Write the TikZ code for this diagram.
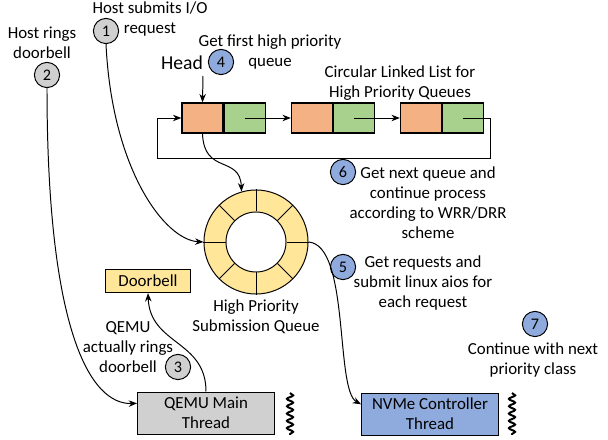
\documentclass[tikz,border=0pt]{standalone}
\usepackage{fontspec}
\setmainfont{Carlito}
\usepackage{xcolor}
\usetikzlibrary{arrows.meta, decorations.pathmorphing}

\definecolor{qorange}{HTML}{F4B183}
\definecolor{qgreen}{HTML}{A9D18E}
\definecolor{qyellow}{HTML}{FFE699}
\definecolor{qblue}{HTML}{8FAADC}
\definecolor{qgray}{HTML}{D0D0D0}

\begin{document}
\begin{tikzpicture}[x=0.025cm, y=-0.025cm, >={Stealth[length=6pt, width=4.6pt]},
    line width=0.7pt, font=\fontsize{12}{14.2}\selectfont,
    stepnum/.style={circle, draw, minimum size=0.63cm, inner sep=0pt, font=\fontsize{11.5}{12}\selectfont},
    cell/.style={draw, line width=0.9pt, minimum width=1.025cm, minimum height=0.75cm, inner sep=0pt},
    thread/.style={draw, minimum width=3.42cm, minimum height=1.05cm, align=center},
    note/.style={align=center},
    wiggle/.style={line width=1.4pt, decorate, decoration={snake, amplitude=2.2pt, segment length=5.2pt}}]
    \useasboundingbox (0,0) rectangle (608,440);

    % steps and their labels
    \node[stepnum, fill=qgray] (c1) at (106,31) {1};
    \node[note] (t1) at (150,19) {Host submits I/O\\request};
    \node[stepnum, fill=qgray] (c2) at (47,75) {2};
    \node[note] (t2) at (42,43) {Host rings\\doorbell};
    \node[stepnum, fill=qblue] (c4) at (221,62) {4};
    \node[note] (t4) at (270,52) {Get first high priority\\queue};
    \node[font=\fontsize{14}{16}\selectfont] (head) at (182,63) {Head};
    \coordinate (headtip) at (203,76);

    % linked list
    \node[note] (tlist) at (400,83) {Circular Linked List for\\High Priority Queues};
    \node[cell, fill=qorange] (o1) at (202.5,118) {};
    \node[cell, fill=qgreen, anchor=west] (g1) at (o1.east) {};
    \node[cell, fill=qorange] (o2) at (312,118) {};
    \node[cell, fill=qgreen, anchor=west] (g2) at (o2.east) {};
    \node[cell, fill=qorange] (o3) at (421,118) {};
    \node[cell, fill=qgreen, anchor=west] (g3) at (o3.east) {};
    \coordinate (loopright) at (490,158);
    \coordinate (loopleft) at (157,158);

    \draw[->] (headtip) -- (o1.north);
    \draw[->] (g1.center) -- (o2.west);
    \draw[->] (g2.center) -- (o3.west);
    \draw[->] (g3.center) -| (loopright) -- (loopleft) |- (o1.west);

    % submission queue ring
    \node[circle, draw, fill=qyellow, minimum size=2.6cm] (ring) at (256,242) {};
    \node[circle, draw, fill=white, minimum size=1.5cm] (hole) at (ring) {};
    \foreach \a in {0,45,...,315}
        \draw (hole.\a) -- (ring.\a);
    \node[note] (tring) at (256,317) {High Priority\\Submission Queue};

    \node[stepnum, fill=qblue] (c6) at (343,172) {6};
    \node[note] (t6) at (428,203) {Get next queue and\\continue process\\according to WRR/DRR\\scheme};
    \node[stepnum, fill=qblue] (c5) at (343,267) {5};
    \node[note] (t5) at (423,283) {Get requests and\\submit linux aios for\\each request};
    \node[stepnum, fill=qblue] (c7) at (535,324) {7};
    \node[note] (t7) at (533,360) {Continue with next\\priority class};

    % threads
    \node[draw, fill=qyellow, minimum width=2.1cm, minimum height=0.58cm] (bell) at (148,281) {Doorbell};
    \node[thread, fill=qgray] (qemu) at (206,413) {QEMU Main\\Thread};
    \node[thread, fill=qblue] (nvme) at (430,414) {NVMe Controller\\Thread};
    \node[stepnum, fill=qgray] (c3) at (178,367) {3};
    \node[note] (t3) at (128,347) {QEMU\\actually rings\\doorbell};
    \coordinate (w1top) at (290,393);
    \coordinate (w1bot) at (290,435);
    \coordinate (w2top) at (512,393);
    \coordinate (w2bot) at (512,435);
    \draw[wiggle] (w1top) -- (w1bot);
    \draw[wiggle] (w2top) -- (w2bot);

    % curved connectors
    \draw[->] (c1.south) .. controls (112,170) and (165,240) .. (ring.west);
    \draw[->] (o1.south) .. controls (204,175) and (240,155) .. (ring.106);
    \draw[->] (ring.east) .. controls (350,245) and (335,390) .. (nvme.172);
    \draw[->] (c2.south) .. controls (47,330) and (90,405) .. (qemu.172);
    \draw[->] (qemu.north) .. controls (206,340) and (150,345) .. (bell.south);
\end{tikzpicture}
\end{document}
